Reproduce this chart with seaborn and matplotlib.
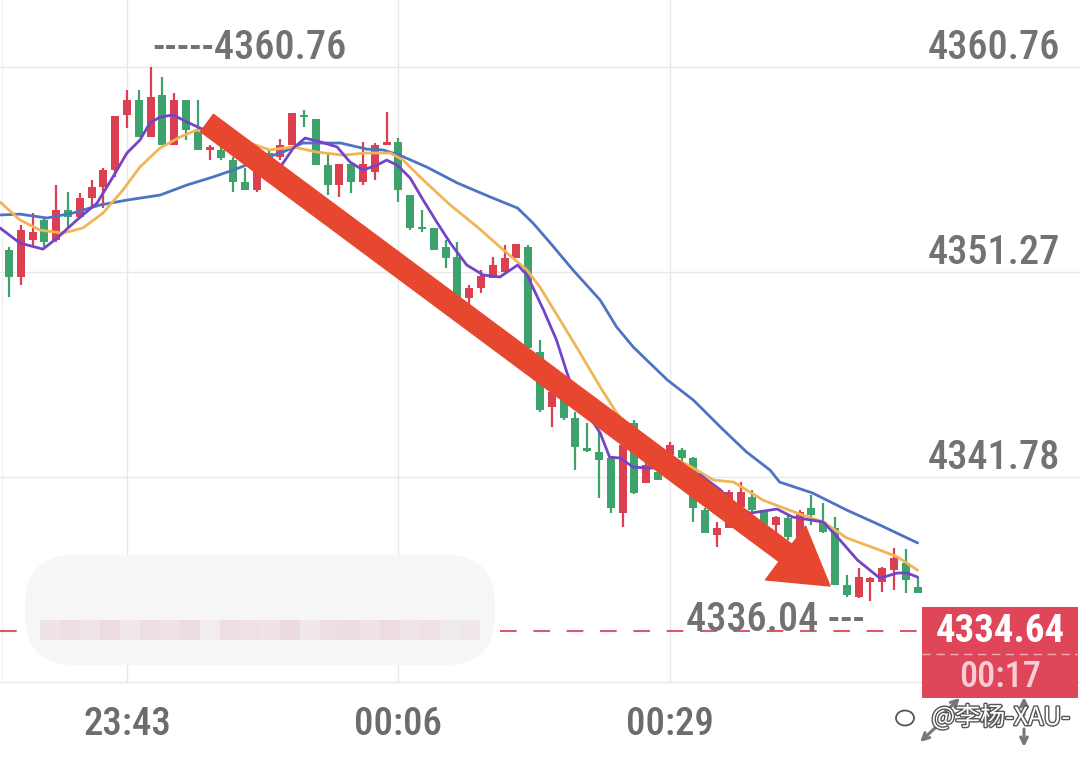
import matplotlib
matplotlib.use('Agg')
import pandas as pd
import matplotlib.pyplot as plt
import seaborn as sns
from matplotlib import font_manager
from matplotlib.patches import Rectangle, FancyBboxPatch, Ellipse
from matplotlib.transforms import IdentityTransform
import matplotlib.patheffects as pe

# 1-minute candles 23:33 -> 00:50 (index 0..77)
opens = [4352.29, 4351.04, 4352.75, 4353.68, 4352.75, 4354.14, 4353.82, 4354.69, 4355.20, 4355.99,
         4358.54, 4359.23, 4357.52, 4359.46, 4357.15, 4359.23, 4357.84, 4356.92, 4356.92, 4356.45,
         4355.44, 4355.07, 4356.78, 4356.59, 4357.15, 4358.54, 4358.35, 4356.22, 4355.30, 4356.27,
         4355.44, 4355.90, 4357.15, 4357.29, 4354.83, 4353.35, 4353.31, 4352.43, 4351.96, 4350.07,
         4350.53, 4350.99, 4351.27, 4351.92, 4352.43, 4347.57, 4345.02, 4345.34, 4344.51, 4343.12,
         4342.94, 4342.66, 4340.11, 4344.28, 4341.50, 4342.01, 4342.80, 4343.03, 4342.66, 4340.25,
         4339.10, 4339.42, 4340.39, 4340.85, 4340.16, 4339.56, 4339.88, 4339.00, 4340.34, 4339.70,
         4339.42, 4336.78, 4336.22, 4336.92, 4336.92, 4337.47, 4337.80, 4336.69]
highs = [4352.43, 4353.44, 4354.00, 4353.82, 4355.30, 4354.97, 4354.93, 4355.53, 4356.08, 4358.49,
         4359.69, 4359.69, 4360.76, 4360.30, 4359.55, 4359.23, 4359.23, 4357.15, 4357.06, 4356.59,
         4356.08, 4356.92, 4356.92, 4357.43, 4358.63, 4358.77, 4358.35, 4356.82, 4356.27, 4356.27,
         4357.29, 4357.24, 4358.68, 4357.47, 4354.83, 4354.14, 4353.31, 4352.75, 4352.66, 4350.67,
         4351.36, 4351.96, 4352.52, 4352.57, 4352.52, 4348.12, 4345.81, 4345.67, 4344.79, 4344.28,
         4343.95, 4342.66, 4343.40, 4344.42, 4342.47, 4342.20, 4343.40, 4343.12, 4342.70, 4340.34,
         4339.70, 4341.18, 4341.55, 4341.18, 4340.25, 4339.97, 4339.97, 4340.25, 4340.95, 4340.58,
         4339.93, 4337.24, 4337.57, 4337.15, 4337.61, 4338.49, 4338.45, 4337.15]
lows = [4350.11, 4350.67, 4352.43, 4352.43, 4352.66, 4353.35, 4353.77, 4354.28, 4354.23, 4355.67,
        4357.93, 4357.52, 4357.52, 4357.15, 4357.15, 4357.38, 4356.92, 4356.45, 4356.45, 4354.97,
        4355.07, 4354.97, 4356.40, 4356.45, 4357.15, 4357.98, 4356.22, 4354.83, 4354.74, 4354.93,
        4355.30, 4355.53, 4357.15, 4354.51, 4353.21, 4353.12, 4352.29, 4351.45, 4349.97, 4349.65,
        4350.30, 4350.99, 4351.27, 4351.92, 4347.75, 4344.79, 4344.09, 4344.42, 4342.10, 4342.94,
        4340.81, 4340.11, 4339.46, 4341.00, 4341.50, 4341.64, 4342.57, 4342.20, 4339.70, 4339.19,
        4338.54, 4339.42, 4340.25, 4340.16, 4339.47, 4339.19, 4338.86, 4338.77, 4339.56, 4339.19,
        4336.78, 4336.22, 4336.18, 4336.04, 4336.46, 4336.55, 4336.41, 4336.41]
closes = [4351.04, 4353.21, 4353.12, 4352.66, 4354.14, 4353.82, 4354.69, 4355.20, 4355.99, 4358.49,
          4359.23, 4357.52, 4359.37, 4357.15, 4359.23, 4357.84, 4356.92, 4357.06, 4356.55, 4355.44,
          4355.07, 4356.68, 4356.55, 4357.15, 4358.63, 4358.45, 4356.22, 4355.30, 4356.27, 4355.44,
          4356.27, 4357.15, 4357.29, 4355.07, 4353.31, 4353.28, 4352.29, 4351.92, 4350.07, 4350.53,
          4351.08, 4351.59, 4351.92, 4352.57, 4347.75, 4344.88, 4345.71, 4344.51, 4343.17, 4342.98,
          4342.57, 4340.34, 4343.26, 4341.04, 4342.33, 4341.64, 4343.26, 4342.66, 4340.34, 4339.19,
          4339.42, 4341.09, 4341.09, 4340.25, 4339.56, 4339.93, 4339.00, 4340.16, 4340.02, 4339.23,
          4336.78, 4336.32, 4337.15, 4337.10, 4337.57, 4338.03, 4337.01, 4336.41]

# moving averages (x in candle index)
ma_fast_x = [-0.76, 0.93, 2.88, 4.07, 5.76, 7.46, 8.81, 10.0, 11.1, 11.95, 12.8, 13.9, 15.1, 16.2, 18.7,
             21.3, 23.0, 24.1, 25.1, 26.4, 27.8, 28.9, 30.0, 31.2, 32.0, 32.9, 34.0, 35.1, 36.3, 37.4,
             38.8, 40.2, 41.6, 43.1, 43.9, 45.3, 46.4, 47.3, 48.1, 49.2, 50.1, 50.9, 51.8, 52.9, 54.1,
             55.2, 56.9, 58.6, 60.3, 61.5, 62.8, 65.1, 66.4, 69.0, 70.2, 71.9, 73.8, 75.3, 76.1, 77.0]
ma_fast = [4353.31, 4352.61, 4352.33, 4352.84, 4353.68, 4354.46, 4355.67, 4356.78, 4357.38, 4358.17,
           4358.44, 4358.54, 4358.21, 4357.93, 4357.38, 4356.45, 4356.13, 4357.01, 4357.47, 4357.29,
           4357.06, 4356.36, 4355.99, 4356.22, 4356.45, 4356.22, 4355.62, 4354.60, 4353.54, 4352.61,
           4351.59, 4351.13, 4351.04, 4351.59, 4351.13, 4349.51, 4348.12, 4346.59, 4345.34, 4344.56,
           4343.82, 4342.70, 4342.66, 4342.24, 4342.20, 4342.20, 4342.20, 4341.87, 4341.18, 4340.48,
           4340.11, 4340.30, 4339.93, 4339.70, 4339.00, 4337.94, 4337.10, 4337.34, 4337.34, 4337.15]
ma_mid_x = [-0.76, 0.93, 2.63, 4.58, 6.27, 7.97, 9.66, 11.1, 12.8, 14.5, 15.9, 17.9, 20.4, 22.1, 24.1,
            26.1, 28.3, 30.3, 32.3, 33.4, 35.1, 37.4, 39.7, 41.9, 43.9, 45.0, 46.7, 48.4, 50.1, 51.5,
            52.6, 54.6, 56.3, 57.7, 59.7, 61.4, 63.9, 66.8, 69.0, 71.0, 73.8, 75.3, 77.0]
ma_mid = [4354.51, 4353.68, 4353.21, 4353.07, 4353.31, 4354.00, 4355.07, 4356.13, 4357.01, 4357.52,
          4357.84, 4357.52, 4357.24, 4356.92, 4357.06, 4356.82, 4356.68, 4356.78, 4356.78, 4356.45,
          4355.53, 4354.37, 4353.35, 4352.29, 4351.36, 4350.57, 4349.05, 4347.52, 4345.95, 4344.74,
          4344.05, 4343.03, 4342.66, 4342.29, 4341.64, 4341.55, 4340.71, 4340.11, 4339.70, 4338.96,
          4338.40, 4338.08, 4337.47]
ma_slow_x = [-0.76, 0.93, 3.22, 5.42, 7.71, 10.0, 12.8, 15.1, 17.3, 19.0, 21.9, 23.2, 24.9, 28.1, 30.3,
             31.7, 33.1, 35.4, 38.0, 40.8, 43.1, 44.4, 45.8, 47.8, 50.1, 51.5, 52.9, 54.3, 55.8, 58.0,
             60.3, 62.5, 64.5, 65.3, 68.1, 71.0, 73.8, 77.0]
ma_slow = [4353.91, 4353.95, 4353.77, 4354.00, 4354.37, 4354.60, 4354.83, 4355.30, 4355.67, 4355.99,
           4356.59, 4356.82, 4357.24, 4357.24, 4356.96, 4356.92, 4356.68, 4356.13, 4355.39, 4354.74,
           4354.23, 4353.54, 4352.66, 4351.36, 4349.97, 4348.72, 4347.80, 4347.06, 4346.27, 4345.34,
           4344.09, 4342.94, 4342.10, 4341.55, 4341.04, 4340.25, 4339.56, 4338.73]

grid_prices = [4360.76, 4351.27, 4341.78, 4332.29]
price_labels = ['4360.76', '4351.27', '4341.78']
time_pos = [10, 33, 56]
time_labels = ['23:43', '00:06', '00:29']
last_price = 4334.64
countdown = '00:17'
hi_idx, hi_val = 12, 4360.76
lo_idx, lo_val = 73, 4336.04
watermark = '@李杨-XAU-'

W, H = 1080, 767
sns.set_theme(style='white')
names = {f.name for f in font_manager.fontManager.ttflist}
num_font = next((f for f in ['Liberation Sans Narrow', 'Roboto Condensed', 'Roboto'] if f in names), 'DejaVu Sans')
plt.rcParams['font.family'] = [num_font, 'DejaVu Sans']

RED, GREEN = '#dc4050', '#3da26c'
GRID, TXT = '#e8e8e8', '#727272'

fig = plt.figure(figsize=(W / 100, H / 100), dpi=100)
fig.patch.set_facecolor('white')
ax = fig.add_axes([0, 0, 1, 1])
ax.set_xlim(-0.76, 90.76)
ax.set_ylim(4328.36, 4363.86)
ax.axis('off')
pix = IdentityTransform()

def py(y):
    return H - y

# grid
y0, y1 = ax.get_ylim()
ybot = (grid_prices[-1] - y0) / (y1 - y0)
for g in grid_prices:
    ax.axhline(g, color=GRID, lw=1, zorder=0)
for t in time_pos:
    ax.axvline(t, ymin=ybot, ymax=1, color=GRID, lw=1, zorder=0)
ax.axvline(-0.55, ymin=ybot, ymax=1, color='#f0f0f0', lw=1, zorder=0)

# candles
df = pd.DataFrame({'o': opens, 'h': highs, 'l': lows, 'c': closes})
df['i'] = range(len(df))
df['col'] = [RED if c >= o else GREEN for o, c in zip(df.o, df.c)]
bottom = df[['o', 'c']].min(axis=1)
height = (df.c - df.o).abs().clip(lower=0.09)
ax.vlines(df.i, df.l, df.h, colors=df.col, lw=1.6, zorder=2)
ax.bar(df.i, height, bottom=bottom, width=0.68, color=df.col, zorder=3, linewidth=0)

# moving averages
for xs, ys, col in [(ma_slow_x, ma_slow, '#4d73c2'), (ma_mid_x, ma_mid, '#f1b556'), (ma_fast_x, ma_fast, '#7444c8')]:
    sns.lineplot(x=xs, y=ys, ax=ax, color=col, lw=2.0, sort=False, zorder=4)

# current price dashed line
ax.axhline(last_price, xmin=0, xmax=921 / W, color='#d8596d', lw=1.5, ls=(0, (8, 8)), zorder=1)

# blurred patch
ax.add_patch(FancyBboxPatch((25, py(665)), 470, 110, boxstyle='round,pad=0,rounding_size=50',
                            transform=pix, facecolor='#f6f6f6', edgecolor='none', zorder=5))
pink_cells = [0.55, 0.7, 0.5, 0.8, 0.45, 0.7, 0.6, 0.75, 0.3, 0.7, 0.65, 0.55, 0.85, 0.4,
              0.7, 0.75, 0.6, 0.8, 0.5, 0.65, 0.35, 0.45]
for k, a in enumerate(pink_cells):
    ax.add_patch(Rectangle((40 + 20 * k, py(640)), 20, 20, transform=pix,
                           facecolor='#ead5da', alpha=a, edgecolor='none', zorder=6))

# labels on the right
for g, lab in zip(grid_prices, price_labels):
    ax.annotate(lab, xy=(1, g), xycoords=('axes fraction', 'data'), xytext=(-20, 8),
                textcoords='offset pixels', ha='right', va='baseline', fontsize=29,
                fontweight='medium', color=TXT)
for t, lab in zip(time_pos, time_labels):
    ax.annotate(lab, xy=(t, 0), xycoords=('data', 'axes fraction'), xytext=(0, H - 735),
                textcoords='offset pixels', ha='center', va='baseline', fontsize=28,
                fontweight='medium', color='#6c6c6c')

# high / low markers
ax.annotate('-----' + f'{hi_val:.2f}', xy=(hi_idx, hi_val), xytext=(2, 19), textcoords='offset pixels',
            ha='left', va='center', fontsize=29, fontweight='medium', color=TXT, zorder=7)
ax.annotate(f'{lo_val:.2f}' + ' ---', xy=(lo_idx, lo_val), xytext=(-6, -19), textcoords='offset pixels',
            ha='right', va='center', fontsize=29, fontweight='medium', color=TXT, zorder=7)

# big trend arrow
ax.annotate('', xy=(830, py(586)), xytext=(207, py(123)), xycoords=pix, textcoords=pix,
            arrowprops=dict(arrowstyle='simple,head_length=0.95,head_width=1.15,tail_width=0.37',
                            color='#e8472f', mutation_scale=42, shrinkA=0, shrinkB=0), zorder=8)

# last price box
ax.add_patch(Rectangle((922, py(698)), 156, 91, transform=pix, facecolor='#e0465a',
                       edgecolor='none', zorder=9, clip_on=False))
ax.plot([922, 1078], [py(654), py(654)], transform=pix, color='#f4a9b4', lw=1, ls=(0, (6, 4)), zorder=10)
ax.text(1000, py(632), f'{last_price:.2f}', transform=pix, ha='center', va='center', fontsize=28,
        fontweight='bold', color='white', zorder=10)
ax.text(1000, py(677), countdown, transform=pix, ha='center', va='center', fontsize=26,
        fontweight='medium', color='#f9cdd3', zorder=10)

# small resize arrows
for (xa, ya), (xb, yb) in [((945, 712), (960, 698)), ((935, 728), (920, 742)),
                           ((1024, 715), (1024, 697)), ((1024, 729), (1024, 747))]:
    ax.annotate('', xy=(xb, py(yb)), xytext=(xa, py(ya)), xycoords=pix, textcoords=pix,
                arrowprops=dict(arrowstyle='->', color='#777777', lw=2.2, shrinkA=0, shrinkB=0), zorder=10)

# watermark
ax.add_patch(Ellipse((905, py(718)), 18, 15, transform=pix, facecolor='white',
                     edgecolor='#555555', lw=1.3, zorder=11))
wm = ax.text(1070, py(718), watermark, transform=pix, ha='right', va='center', fontsize=18,
             color='white', family=['Noto Sans CJK SC', 'DejaVu Sans'], zorder=11)
wm.set_path_effects([pe.withStroke(linewidth=2, foreground='#555555')])

fig.savefig('out.png', dpi=100, facecolor='white')
